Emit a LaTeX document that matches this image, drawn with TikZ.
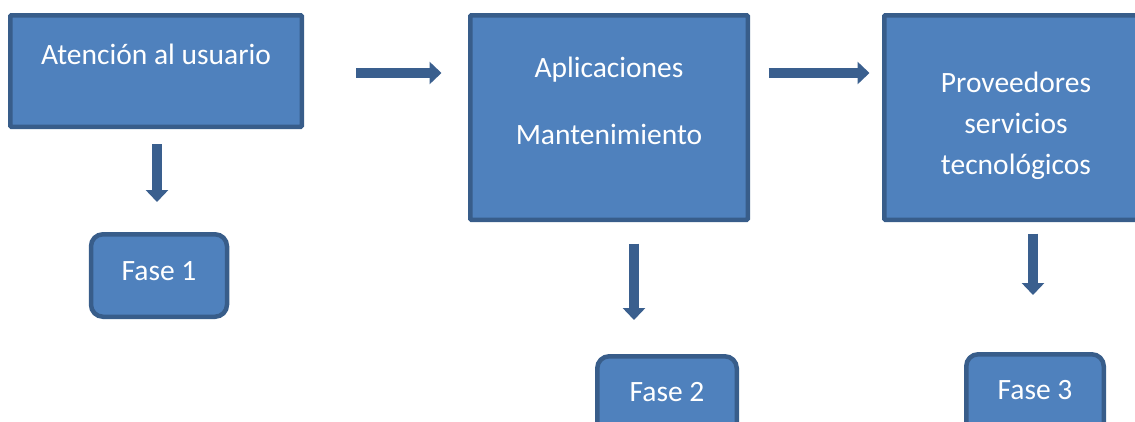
\documentclass[tikz,border=0pt]{standalone}
\usepackage{fontspec}
\setmainfont{Carlito}
\usetikzlibrary{arrows.meta,calc}
\definecolor{boxfill}{HTML}{4F81BD}
\definecolor{boxline}{HTML}{385D8A}
\definecolor{arrowcol}{HTML}{3A5F8E}
\tikzset{
  bigbox/.style={draw=boxline, fill=boxfill, line width=4.5pt, rounded corners=1pt,
    text=white, font=\fontsize{29.5pt}{41pt}\selectfont, align=center, inner sep=0pt},
  fasebox/.style={draw=boxline, fill=boxfill, line width=4.5pt, rounded corners=12pt,
    text=white, font=\fontsize{29.5pt}{35pt}\selectfont, inner sep=0pt, text height=19pt,
    minimum width=136pt, minimum height=82.5pt},
  blockarrow/.style={draw=arrowcol, line width=10pt, -{Triangle[width=22pt,length=12pt]}}
}
\begin{document}
\begin{tikzpicture}[x=1pt,y=1pt]
\useasboundingbox (0,0) rectangle (1135,-421);
\node[bigbox, minimum width=291.5pt, minimum height=111.5pt, text height=19pt, text depth=33pt] (b1) at (156,-71) {Atención al usuario};
\node[bigbox, minimum width=277.5pt, minimum height=204.5pt, text height=85pt, text depth=32pt] (b2) at (609,-117.5) {Aplicaciones\\[26pt]Mantenimiento};
\node[bigbox, minimum width=263.5pt, minimum height=204.5pt, text height=130pt, text depth=17pt] (b3) at (1016,-117.5) {Proveedores\\servicios\\tecnológicos};
\node[fasebox, text depth=10pt] (f1) at (159,-275.5) {Fase 1};
\node[fasebox, minimum width=139.5pt, text depth=12pt] (f2) at (667,-397.5) {Fase 2};
\node[fasebox, minimum width=137.5pt, text depth=12pt] (f3) at (1035,-395.5) {Fase 3};
% arrow anchor points
\coordinate (h1) at ($(b1.east)+(0,-2)$);
\coordinate (h2) at ($(b2.east |- b1.east)+(0,-2)$);
\coordinate (h3) at ($(b3.west |- b1.east)+(0,-2)$);
\coordinate (v1) at ($(b1.south)+(1,0)$);
\coordinate (v2) at ($(b2.south)+(25,0)$);
\coordinate (v3) at ($(b3.south)+(17,0)$);
% horizontal arrows
\draw[blockarrow, shorten <=52pt, shorten >=26.5pt] (h1) -- (h1 -| b2.west);
\draw[blockarrow, shorten <=18.5pt, shorten >=12.5pt] (h2) -- (h3);
% vertical arrows
\draw[blockarrow, shorten <=15pt, shorten >=30pt] (v1) -- (v1 |- f1.north);
\draw[blockarrow, shorten <=21.5pt, shorten >=34pt] (v2) -- (v2 |- f2.north);
\draw[blockarrow, shorten <=11.5pt, shorten >=57pt] (v3) -- (v3 |- f3.north);
\end{tikzpicture}
\end{document}
